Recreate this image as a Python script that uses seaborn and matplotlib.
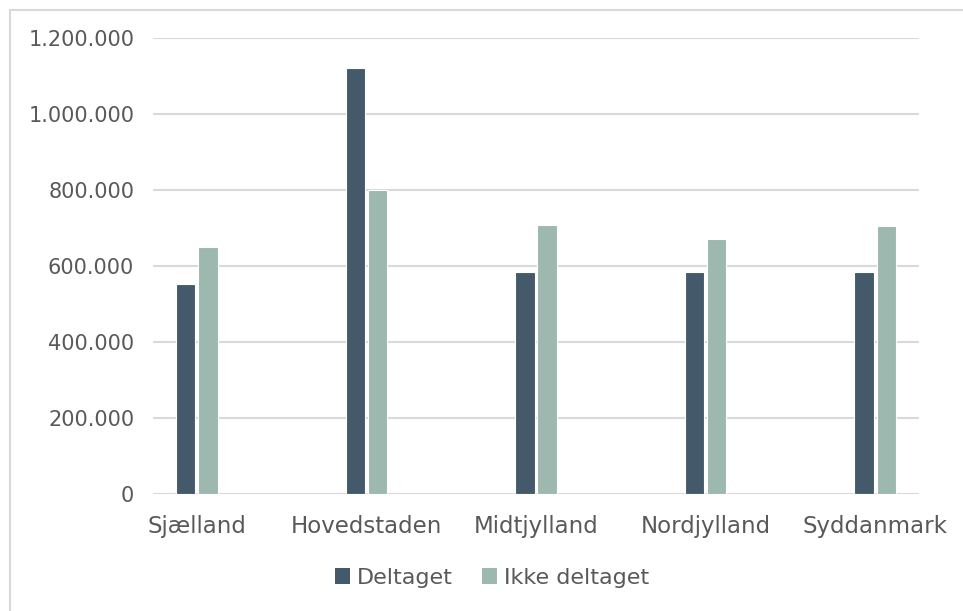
import matplotlib
matplotlib.use("Agg")
import matplotlib.pyplot as plt
import seaborn as sns
import pandas as pd
from matplotlib.patches import Patch
from matplotlib.lines import Line2D
from matplotlib.ticker import FuncFormatter

regions = ["Sjælland", "Hovedstaden", "Midtjylland", "Nordjylland", "Syddanmark"]
deltaget = [552000, 1120000, 583000, 583000, 583000]
ikke_deltaget = [649000, 800000, 708000, 672000, 704000]
series_names = ["Deltaget", "Ikke deltaget"]
y_ticks = [0, 200000, 400000, 600000, 800000, 1000000, 1200000]

colors = ["#44596A", "#9DB8AE"]
text_color = "#595959"
grid_color = "#D9D9D9"

df = pd.DataFrame({
    "Region": regions * 2,
    "Antal": deltaget + ikke_deltaget,
    "Gruppe": [series_names[0]] * len(regions) + [series_names[1]] * len(regions),
})

sns.set_theme(style="white")
plt.rcParams["font.family"] = ["DejaVu Sans"]

W, H = 963, 611
fig = plt.figure(figsize=(W / 100, H / 100), dpi=100)
ax_left, ax_right, ax_top, ax_bottom = 112, 960, 38, 494
ax = fig.add_axes([ax_left / W, 1 - ax_bottom / H, (ax_right - ax_left) / W, (ax_bottom - ax_top) / H])

sns.barplot(data=df, x="Region", y="Antal", hue="Gruppe", hue_order=series_names,
            palette=colors, width=0.26, gap=0.12, edgecolor="white", linewidth=0.8,
            saturation=1, ax=ax, legend=False)

ax.set_xlim(-0.5, len(regions) - 0.5)
ax.set_ylim(0, 1200000)
ax.set_yticks(y_ticks)
ax.yaxis.set_major_formatter(FuncFormatter(lambda v, p: f"{int(v):,}".replace(",", ".")))

# grid lines (restricted horizontal extent as in the reference)
gx0 = (154 - ax_left) / (ax_right - ax_left)
gx1 = (918 - ax_left) / (ax_right - ax_left)
for t in y_ticks:
    ax.axhline(t, xmin=gx0, xmax=gx1, color=grid_color, linewidth=1.5, zorder=0)

for s in ax.spines.values():
    s.set_visible(False)
ax.set_xlabel("")
ax.set_ylabel("")
ax.tick_params(axis="y", length=0, pad=-16, labelsize=15, labelcolor=text_color)
ax.tick_params(axis="x", length=0, pad=15, labelsize=16.5, labelcolor=text_color)

handles = [Patch(facecolor=c, edgecolor="none") for c in colors]
fig.legend(handles, series_names, loc="center", bbox_to_anchor=(492 / W, 1 - 578 / H),
           ncol=2, frameon=False, fontsize=16, labelcolor=text_color,
           handlelength=0.7, handleheight=0.7, handletextpad=0.3, columnspacing=1.3)

# outer chart border
fig.add_artist(Line2D([10 / W, 10 / W], [0, 1 - 10 / H], color=grid_color, linewidth=1.5))
fig.add_artist(Line2D([10 / W, 1], [1 - 10 / H, 1 - 10 / H], color=grid_color, linewidth=1.5))

fig.savefig("out.png", dpi=100, facecolor="white")
